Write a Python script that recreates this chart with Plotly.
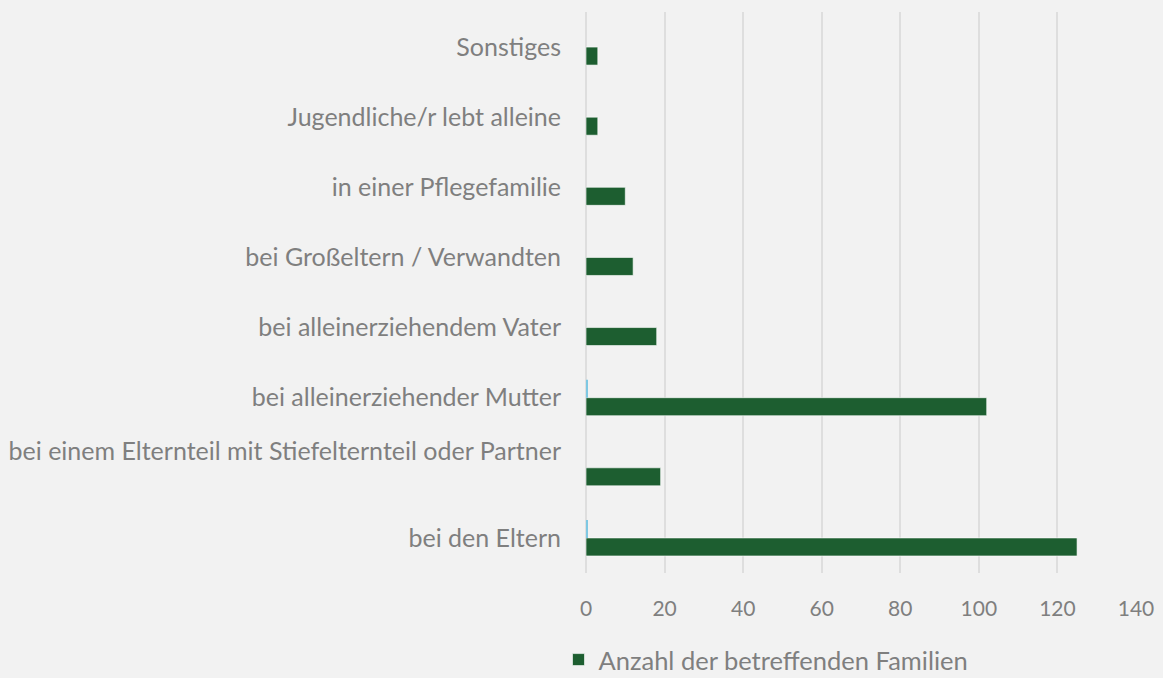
import plotly.graph_objects as go

categories = [
    "bei den Eltern",
    "bei einem Elternteil mit Stiefelternteil oder Partner<br> ",
    "bei alleinerziehender Mutter",
    "bei alleinerziehendem Vater",
    "bei Großeltern / Verwandten",
    "in einer Pflegefamilie",
    "Jugendliche/r lebt alleine",
    "Sonstiges",
]
familien = [125, 19, 102, 18, 12, 10, 3, 3]
anteil = [0.3, 0, 0.3, 0, 0, 0, 0, 0]
x_ticks = [0, 20, 40, 60, 80, 100, 120, 140]

FONT = "Lato"
GRAY = "#7f7f7f"

fig = go.Figure()
fig.add_trace(go.Bar(
    y=categories, x=familien, orientation="h",
    name="Anzahl der betreffenden Familien",
    marker=dict(color="#1d5e30", line=dict(color="rgba(255,255,255,0.6)", width=1)),
))
fig.add_trace(go.Bar(
    y=categories, x=anteil, orientation="h",
    name="Anteil", showlegend=False,
    marker=dict(color="#7ec8e3", line=dict(width=0)),
))

fig.update_layout(
    width=1163, height=678,
    paper_bgcolor="#f2f2f2", plot_bgcolor="#f2f2f2",
    margin=dict(l=586, r=27, t=12, b=105, autoexpand=False),
    barmode="group", bargap=0.486, bargroupgap=0,
    font=dict(family=FONT, size=25, color=GRAY),
    legend=dict(orientation="h", x=-0.05, xanchor="left", y=-0.197, yanchor="bottom",
                font=dict(family=FONT, size=25.5, color=GRAY), itemwidth=30,
                bgcolor="rgba(0,0,0,0)", borderwidth=0),
    showlegend=True,
)
fig.update_xaxes(range=[0, 140], tickvals=x_ticks, showgrid=True, gridcolor="#dedede", gridwidth=2,
                 zeroline=True, zerolinecolor="#dedede", zerolinewidth=2,
                 showline=False, ticks="", ticklabelstandoff=21,
                 tickfont=dict(family=FONT, size=21, color=GRAY))
fig.update_yaxes(showgrid=False, showline=False, ticks="", ticklabelstandoff=24,
                 tickfont=dict(family=FONT, size=25, color=GRAY), categoryorder="array",
                 categoryarray=categories)

fig.write_html("out.html", config={"displayModeBar": False},
               post_script="document.body.style.margin='0';")
